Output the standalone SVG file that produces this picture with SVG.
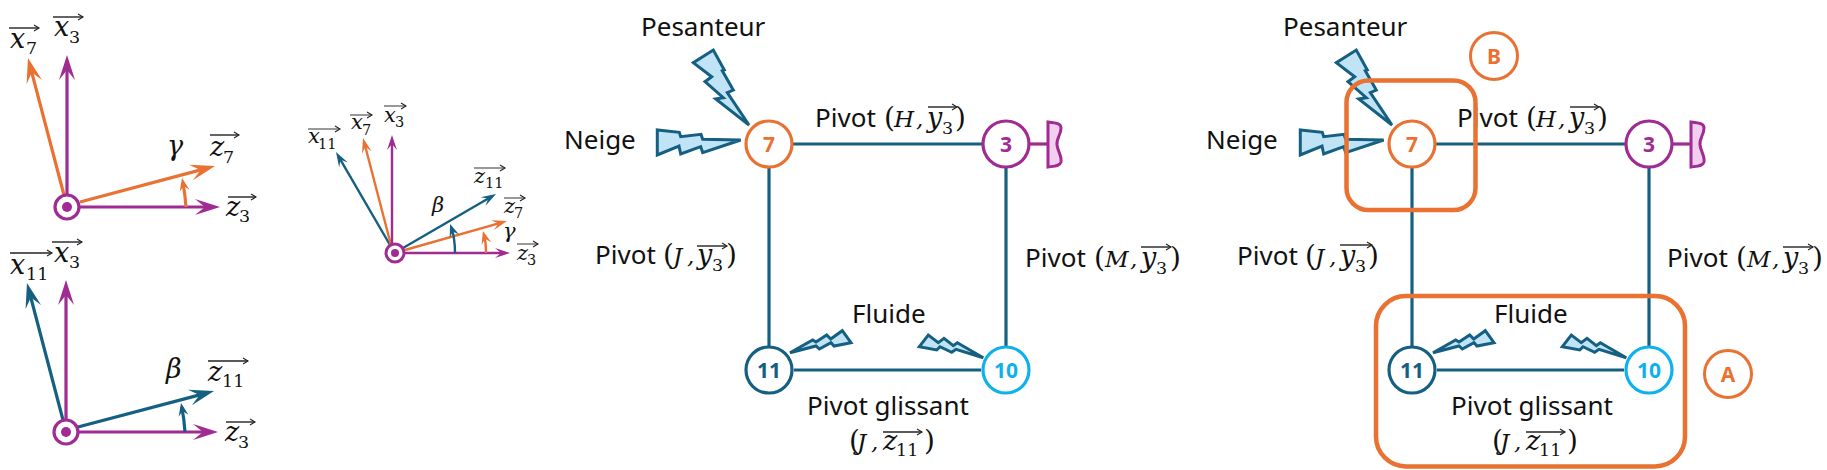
<svg xmlns="http://www.w3.org/2000/svg" width="1827" height="470" viewBox="0 0 1827 470">
<style>
text{fill:#111}
.lbl{font-family:"Noto Sans","Open Sans",sans-serif;font-size:26px}
.m{font-family:"DejaVu Serif",serif;font-style:italic;font-size:27px}
.mc{font-family:"DejaVu Serif",serif;font-style:italic;font-size:23px}
.m2{font-family:"DejaVu Serif",serif;font-style:italic;font-size:21px}
.s{font-family:"DejaVu Serif",serif;font-size:17.5px}
.s2{font-family:"DejaVu Serif",serif;font-size:14.5px}
.p{font-family:"DejaVu Serif",serif;font-size:28px;font-weight:200}
.ov{stroke:#222;stroke-width:1.4;fill:none;marker-end:url(#ov)}
.ov2{stroke:#555;stroke-width:1.2;fill:none;marker-end:url(#ov)}
.ax{fill:none;stroke-width:3.2}
.ax2{fill:none;stroke-width:2.4}
.pu{stroke:#a02b93}.or{stroke:#e97132}.bl{stroke:#156082}
.nd{fill:#fff;stroke-width:3.2}
.nt{font-family:"Noto Sans","Open Sans",sans-serif;font-size:21px;font-weight:700;text-anchor:middle}
.cn{stroke:#156082;stroke-width:3.2;fill:none}
.bolt{fill:#c0e4f5;stroke:#156082;stroke-width:3;stroke-linejoin:miter}
.frame{fill:none;stroke:#e97132;stroke-width:4.5}
</style>
<defs>
<marker id="ov" markerUnits="userSpaceOnUse" markerWidth="8" markerHeight="8" refX="6" refY="4" orient="auto"><path d="M1,1 L6,4 L1,7" fill="none" stroke="#222" stroke-width="1.1"/></marker>
<marker id="bp" markerUnits="userSpaceOnUse" markerWidth="26" markerHeight="18" refX="17" refY="9" orient="auto"><path d="M25,9 L0,1 L10,9 L0,17 Z" fill="#a02b93"/></marker>
<marker id="bo" markerUnits="userSpaceOnUse" markerWidth="26" markerHeight="18" refX="17" refY="9" orient="auto"><path d="M25,9 L0,1 L10,9 L0,17 Z" fill="#e97132"/></marker>
<marker id="bb" markerUnits="userSpaceOnUse" markerWidth="26" markerHeight="18" refX="17" refY="9" orient="auto"><path d="M25,9 L0,1 L10,9 L0,17 Z" fill="#156082"/></marker>
<marker id="sp" markerUnits="userSpaceOnUse" markerWidth="16" markerHeight="12" refX="10" refY="6" orient="auto"><path d="M15,6 L0,1 L6,6 L0,11 Z" fill="#a02b93"/></marker>
<marker id="so" markerUnits="userSpaceOnUse" markerWidth="16" markerHeight="12" refX="10" refY="6" orient="auto"><path d="M15,6 L0,1 L6,6 L0,11 Z" fill="#e97132"/></marker>
<marker id="sb" markerUnits="userSpaceOnUse" markerWidth="16" markerHeight="12" refX="10" refY="6" orient="auto"><path d="M15,6 L0,1 L6,6 L0,11 Z" fill="#156082"/></marker>
<marker id="ao" markerUnits="userSpaceOnUse" markerWidth="14" markerHeight="12" refX="9" refY="6" orient="auto"><path d="M13,6 L0,1 L5,6 L0,11 Z" fill="#e97132"/></marker>
<marker id="ab" markerUnits="userSpaceOnUse" markerWidth="14" markerHeight="12" refX="9" refY="6" orient="auto"><path d="M13,6 L0,1 L5,6 L0,11 Z" fill="#156082"/></marker>
</defs>

<g id="frames-panel-1">
<path class="ax or" d="M64,195 L30,65.7" marker-end="url(#bo)"/>
<path class="ax or" d="M80,202 L207.3,168.1" marker-end="url(#bo)"/>
<path class="ax pu" d="M67,195 V63" marker-end="url(#bp)"/>
<path class="ax pu" d="M79,207 H212" marker-end="url(#bp)"/>
<path class="ax or" d="M186,207 Q185,193 182.8,182" marker-end="url(#ao)"/>
<circle cx="67" cy="207" r="12" fill="#fff" stroke="#a02b93" stroke-width="3.2"/><circle cx="67" cy="207" r="5" fill="#a02b93"/>
<text class="m" x="10" y="48">x</text><text class="s" x="26" y="54">7</text><path class="ov" d="M9,28 H39"/>
<text class="m" x="54" y="36">x</text><text class="s" x="69" y="43">3</text><path class="ov" d="M53,17 H83"/>
<text class="m" x="167" y="155">γ</text>
<text class="m" x="210" y="156">z</text><text class="s" x="223" y="163">7</text><path class="ov" d="M210,135 H239"/>
<text class="m" x="226" y="216">z</text><text class="s" x="239" y="222">3</text><path class="ov" d="M228,197 H256"/>
</g>

<g id="frames-panel-2">
<path class="ax bl" d="M63,420 L29,290.7" marker-end="url(#bb)"/>
<path class="ax bl" d="M78,427 L206.3,393.1" marker-end="url(#bb)"/>
<path class="ax pu" d="M66,420 V288" marker-end="url(#bp)"/>
<path class="ax pu" d="M78,432 H210" marker-end="url(#bp)"/>
<path class="ax bl" d="M185,432 Q184,418 181.8,407" marker-end="url(#ab)"/>
<circle cx="66" cy="432" r="12" fill="#fff" stroke="#a02b93" stroke-width="3.2"/><circle cx="66" cy="432" r="5" fill="#a02b93"/>
<text class="m" x="10" y="274">x</text><text class="s" x="26" y="280">11</text><path class="ov" d="M10,253 H52"/>
<text class="m" x="54" y="262">x</text><text class="s" x="69" y="268">3</text><path class="ov" d="M52,242 H82"/>
<text class="m" x="166" y="378">β</text>
<text class="m" x="208" y="381">z</text><text class="s" x="222" y="387">11</text><path class="ov" d="M208,361 H248"/>
<text class="m" x="225" y="441">z</text><text class="s" x="238" y="448">3</text><path class="ov" d="M226,422 H255"/>
</g>

<g id="frames-panel-3">
<path class="ax2 bl" d="M390,245 L338.5,156.3" marker-end="url(#sb)"/>
<path class="ax2 or" d="M391,245 L364.3,142.8" marker-end="url(#so)"/>
<path class="ax2 pu" d="M392,245 V140" marker-end="url(#sp)"/>
<path class="ax2 bl" d="M403,248 L491.7,196.5" marker-end="url(#sb)"/>
<path class="ax2 or" d="M405,250 L502.2,222.4" marker-end="url(#so)"/>
<path class="ax2 pu" d="M404,253 H505" marker-end="url(#sp)"/>
<path class="ax2 bl" d="M455,253 Q455,238 451.4,227.8" marker-end="url(#ab)"/>
<path class="ax2 or" d="M486,253 Q486,242 484,234.9" marker-end="url(#ao)"/>
<circle cx="395" cy="253" r="9" fill="#fff" stroke="#a02b93" stroke-width="3"/><circle cx="395" cy="253" r="4" fill="#a02b93"/>
<text class="m2" x="308" y="143">x</text><text class="s2" x="318" y="149">11</text><path class="ov2" d="M308,129 H340"/>
<text class="m2" x="351" y="129">x</text><text class="s2" x="362" y="135">7</text><path class="ov2" d="M350,115 H372"/>
<text class="m2" x="384" y="122">x</text><text class="s2" x="395" y="127">3</text><path class="ov2" d="M384,106 H406"/>
<text class="m2" x="474" y="183">z</text><text class="s2" x="485" y="188">11</text><path class="ov2" d="M474,168 H505"/>
<text class="m2" x="432" y="212">β</text>
<text class="m2" x="504" y="213">z</text><text class="s2" x="514" y="218">7</text><path class="ov2" d="M504,198 H525"/>
<text class="m2" x="503" y="238">γ</text>
<text class="m2" x="517" y="260">z</text><text class="s2" x="527" y="265">3</text><path class="ov2" d="M517,244 H538"/>
</g>

<g id="connectors-1">
<path class="cn" d="M793,144 H982"/>
<path class="cn" d="M769,168 V346"/>
<path class="cn" d="M1006,168 V346"/>
<path class="cn" d="M794,370 H981"/>
<path d="M1030,144 H1049" fill="none" stroke="#a02b93" stroke-width="3.2"/>
</g>
<g id="loads-1">
<path class="bolt" d="M749,125 L727.3,92.7 L733.3,90 L722.3,70.7 L724.3,70 L713.3,50 L693.3,62.7 L711.7,76.7 L705,81.7 L723.3,97.7 L715.7,99 Z"/>
<path class="bolt" d="M740.7,140 L702.7,139.3 L701,134.3 L680.7,136.7 L679.3,132.3 L657.3,130 L657.3,155 L679,146 L680.7,154 L700.7,146.7 L702.7,152.7 Z"/>
<path class="bolt" d="M790,352.7 L812.7,340 L816,342 L826.7,335 L830.7,339 L842.3,330.7 L851,342.7 L834,346 L831,342.7 L819.3,349 L816,346 Z"/>
<path class="bolt" d="M983.3,357.7 L957.3,342.7 L953.3,345.7 L944,338.3 L938.3,342.7 L928.3,335 L919.3,346.7 L936.7,350 L940,346.7 L951.7,352.3 L956,349.3 Z"/>
</g>
<g id="d1-node-7"><circle class="nd or" cx="769" cy="144" r="23"/><text class="nt" x="769" y="152" style="fill:#e97132">7</text></g>
<g id="d1-node-3"><circle class="nd pu" cx="1006" cy="144" r="23"/><text class="nt" x="1006" y="152" style="fill:#a02b93">3</text></g>
<g id="d1-node-11"><circle class="nd bl" cx="769" cy="370" r="23"/><text class="nt" x="769" y="378" style="fill:#156082">11</text></g>
<g id="d1-node-10"><circle class="nd" style="stroke:#0fb0ee" cx="1006" cy="370" r="23"/><text class="nt" x="1006" y="378" style="fill:#0fb0ee">10</text></g>
<g id="d1-ground"><path d="M1048,122 C1058,123 1061,124 1061,128 C1061,135 1056,139 1057,145 C1058,152 1062,156 1061,162 C1060,166 1055,166 1048,167 Z" fill="#f2cfee" stroke="#a02b93" stroke-width="3"/></g>
<g id="d1-labels">
<text class="lbl" x="641" y="36">Pesanteur</text>
<text class="lbl" x="564" y="149">Neige</text>
<text class="lbl" x="852" y="323">Fluide</text>
<text class="lbl" x="807" y="415">Pivot glissant</text>
<text class="lbl" x="815" y="127">Pivot</text><text class="p" x="884" y="127">(</text><text class="mc" x="894" y="127">H</text><text class="mc" x="916" y="127">,</text><text class="m" x="927" y="127">y</text><text class="s" x="942" y="134">3</text><text class="p" x="955" y="127">)</text><path class="ov" d="M928,107 H957"/>
<text class="lbl" x="595" y="264">Pivot</text><text class="p" x="663" y="264">(</text><text class="mc" x="673" y="264">J</text><text class="mc" x="687" y="264">,</text><text class="m" x="697" y="264">y</text><text class="s" x="712" y="271">3</text><text class="p" x="726" y="264">)</text><path class="ov" d="M697,246 H727"/>
<text class="lbl" x="1025" y="267">Pivot</text><text class="p" x="1094" y="267">(</text><text class="mc" x="1105" y="267">M</text><text class="mc" x="1130" y="267">,</text><text class="m" x="1141" y="267">y</text><text class="s" x="1156" y="274">3</text><text class="p" x="1170" y="267">)</text><path class="ov" d="M1141,247 H1171"/>
<text class="p" x="849" y="450">(</text><text class="mc" x="857" y="450">J</text><text class="mc" x="871" y="450">,</text><text class="m" x="883" y="450">z</text><text class="s" x="896" y="456">11</text><text class="p" x="924" y="450">)</text><path class="ov" d="M883,432 H922"/>
</g>

<g id="connectors-2">
<path class="cn" d="M1436,144 H1625"/>
<path class="cn" d="M1412,168 V346"/>
<path class="cn" d="M1649,168 V346"/>
<path class="cn" d="M1437,370 H1624"/>
<path d="M1673,144 H1692" fill="none" stroke="#a02b93" stroke-width="3.2"/>
</g>
<g id="loads-2" transform="translate(643,0)">
<path class="bolt" d="M749,125 L727.3,92.7 L733.3,90 L722.3,70.7 L724.3,70 L713.3,50 L693.3,62.7 L711.7,76.7 L705,81.7 L723.3,97.7 L715.7,99 Z"/>
<path class="bolt" d="M740.7,140 L702.7,139.3 L701,134.3 L680.7,136.7 L679.3,132.3 L657.3,130 L657.3,155 L679,146 L680.7,154 L700.7,146.7 L702.7,152.7 Z"/>
<path class="bolt" d="M790,352.7 L812.7,340 L816,342 L826.7,335 L830.7,339 L842.3,330.7 L851,342.7 L834,346 L831,342.7 L819.3,349 L816,346 Z"/>
<path class="bolt" d="M983.3,357.7 L957.3,342.7 L953.3,345.7 L944,338.3 L938.3,342.7 L928.3,335 L919.3,346.7 L936.7,350 L940,346.7 L951.7,352.3 L956,349.3 Z"/>
</g>
<g id="d2-node-7"><circle class="nd or" cx="1412" cy="144" r="23"/><text class="nt" x="1412" y="152" style="fill:#e97132">7</text></g>
<g id="d2-node-3"><circle class="nd pu" cx="1649" cy="144" r="23"/><text class="nt" x="1649" y="152" style="fill:#a02b93">3</text></g>
<g id="d2-node-11"><circle class="nd bl" cx="1412" cy="370" r="23"/><text class="nt" x="1412" y="378" style="fill:#156082">11</text></g>
<g id="d2-node-10"><circle class="nd" style="stroke:#0fb0ee" cx="1649" cy="370" r="23"/><text class="nt" x="1649" y="378" style="fill:#0fb0ee">10</text></g>
<g id="d2-ground" transform="translate(643,0)"><path d="M1048,122 C1058,123 1061,124 1061,128 C1061,135 1056,139 1057,145 C1058,152 1062,156 1061,162 C1060,166 1055,166 1048,167 Z" fill="#f2cfee" stroke="#a02b93" stroke-width="3"/></g>
<g id="d2-labels">
<text class="lbl" x="1283" y="36">Pesanteur</text>
<text class="lbl" x="1206" y="149">Neige</text>
<text class="lbl" x="1494" y="323">Fluide</text>
<text class="lbl" x="1451" y="415">Pivot glissant</text>
<text class="lbl" x="1457" y="127">Pivot</text><text class="p" x="1526" y="127">(</text><text class="mc" x="1536" y="127">H</text><text class="mc" x="1558" y="127">,</text><text class="m" x="1569" y="127">y</text><text class="s" x="1584" y="134">3</text><text class="p" x="1597" y="127">)</text><path class="ov" d="M1570,107 H1599"/>
<text class="lbl" x="1237" y="265">Pivot</text><text class="p" x="1305" y="265">(</text><text class="mc" x="1315" y="265">J</text><text class="mc" x="1329" y="265">,</text><text class="m" x="1340" y="265">y</text><text class="s" x="1355" y="272">3</text><text class="p" x="1368" y="265">)</text><path class="ov" d="M1340,245 H1372"/>
<text class="lbl" x="1667" y="267">Pivot</text><text class="p" x="1736" y="267">(</text><text class="mc" x="1747" y="267">M</text><text class="mc" x="1772" y="267">,</text><text class="m" x="1783" y="267">y</text><text class="s" x="1798" y="274">3</text><text class="p" x="1812" y="267">)</text><path class="ov" d="M1783,247 H1813"/>
<text class="p" x="1492" y="450">(</text><text class="mc" x="1500" y="450">J</text><text class="mc" x="1514" y="450">,</text><text class="m" x="1526" y="450">z</text><text class="s" x="1539" y="456">11</text><text class="p" x="1567" y="450">)</text><path class="ov" d="M1526,432 H1565"/>
</g>
<g id="group-B">
<rect class="frame" x="1346.5" y="80.5" width="129" height="129.5" rx="22"/>
<circle cx="1494" cy="56" r="23.5" fill="#fff" stroke="#e97132" stroke-width="3"/>
<text class="nt" x="1494" y="64" style="fill:#e97132">B</text>
</g>
<g id="group-A">
<rect class="frame" x="1376" y="296" width="309" height="170.5" rx="30"/>
<circle cx="1728" cy="374" r="23.5" fill="#fff" stroke="#e97132" stroke-width="3"/>
<text class="nt" x="1728" y="382" style="fill:#e97132">A</text>
</g>
</svg>
